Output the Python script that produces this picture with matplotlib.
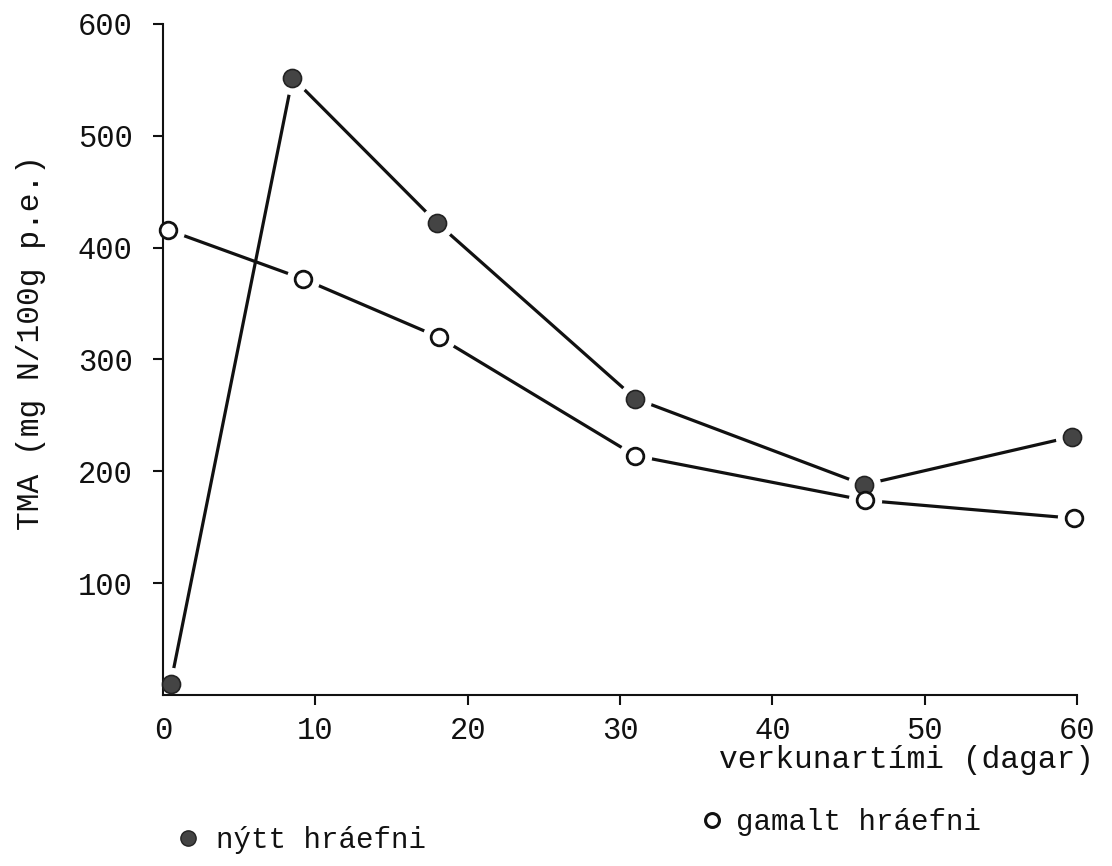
import matplotlib
matplotlib.use("Agg")
import matplotlib.pyplot as plt
from matplotlib.lines import Line2D

# --------------------------------------------------
# data: TMA during curing, new vs. old raw material
# --------------------------------------------------
days_nytt = [0.5, 8.5, 18.0, 31.0, 46.0, 59.7]
tma_nytt = [10, 552, 422, 265, 188, 231]

days_gamalt = [0.3, 9.2, 18.1, 31.0, 46.1, 59.8]
tma_gamalt = [416, 372, 320, 214, 174, 158]

x_ticks = [0, 10, 20, 30, 40, 50, 60]
y_ticks = [100, 200, 300, 400, 500, 600]

label_x = "verkunartími (dagar)"
label_y = "TMA (mg N/100g p.e.)"
label_nytt = "nýtt hráefni"
label_gamalt = "gamalt hráefni"

# --------------------------------------------------
# style
# --------------------------------------------------
plt.rcParams["font.family"] = ["Liberation Mono", "DejaVu Sans Mono"]
plt.rcParams["font.size"] = 21

ink = "#111111"
fill_grey = "#444444"
lw_line = 2.3
ms = 13

fig = plt.figure(figsize=(11.12, 8.66), dpi=100)
ax = fig.add_axes([0.1466, 0.1975, 0.8219, 0.7748])

# connecting lines (drawn first, markers + white halo go on top so the
# lines stop short of each point)
ax.plot(days_nytt, tma_nytt, color=ink, lw=lw_line, zorder=2)
ax.plot(days_gamalt, tma_gamalt, color=ink, lw=lw_line, zorder=2)

for xs, ys in [(days_nytt, tma_nytt), (days_gamalt, tma_gamalt)]:
    ax.plot(xs, ys, ls="none", marker="o", ms=23, mfc="white", mec="white",
            zorder=2.2, clip_on=False)

ax.plot(days_nytt, tma_nytt, ls="none", marker="o", ms=ms, mfc=fill_grey,
        mec="#222222", mew=1.2, zorder=3, clip_on=False)
ax.plot(days_gamalt, tma_gamalt, ls="none", marker="o", ms=ms - 1, mfc="white",
        mec=ink, mew=2.0, zorder=3, clip_on=False)

# axes
ax.set_xlim(0, 60)
ax.set_ylim(0, 600)
ax.spines["top"].set_visible(False)
ax.spines["right"].set_visible(False)
for s in ("left", "bottom"):
    ax.spines[s].set_linewidth(1.5)
    ax.spines[s].set_color(ink)
    ax.spines[s].set_zorder(2.5)

ax.set_xticks(x_ticks)
ax.set_yticks(y_ticks)
ax.tick_params(axis="both", direction="out", length=7, width=1.5, color=ink,
               labelcolor=ink, labelsize=22)
ax.tick_params(axis="y", pad=15)
ax.tick_params(axis="x", pad=8)
ax.xaxis.get_major_ticks()[0].tick1line.set_visible(False)

# axis titles
fig.text(1094 / 1112, 1 - 760 / 866, label_x, ha="right", va="center",
         fontsize=22.5, color=ink)
fig.text(31 / 1112, 1 - 343 / 866, label_y, ha="center", va="center",
         rotation=90, fontsize=22.5, color=ink)

# key below the plot
fig.add_artist(Line2D([188 / 1112], [1 - 838 / 866], transform=fig.transFigure,
                      marker="o", ms=11, mfc=fill_grey, mec="#222222", mew=1.0,
                      ls="none"))
fig.text(216 / 1112, 1 - 840 / 866, label_nytt, ha="left", va="center",
         fontsize=21, color=ink)

fig.add_artist(Line2D([712 / 1112], [1 - 820 / 866], transform=fig.transFigure,
                      marker="o", ms=10, mfc="white", mec=ink, mew=2.2,
                      ls="none"))
fig.text(736 / 1112, 1 - 822 / 866, label_gamalt, ha="left", va="center",
         fontsize=21, color=ink)

fig.savefig("out.png", dpi=100)
